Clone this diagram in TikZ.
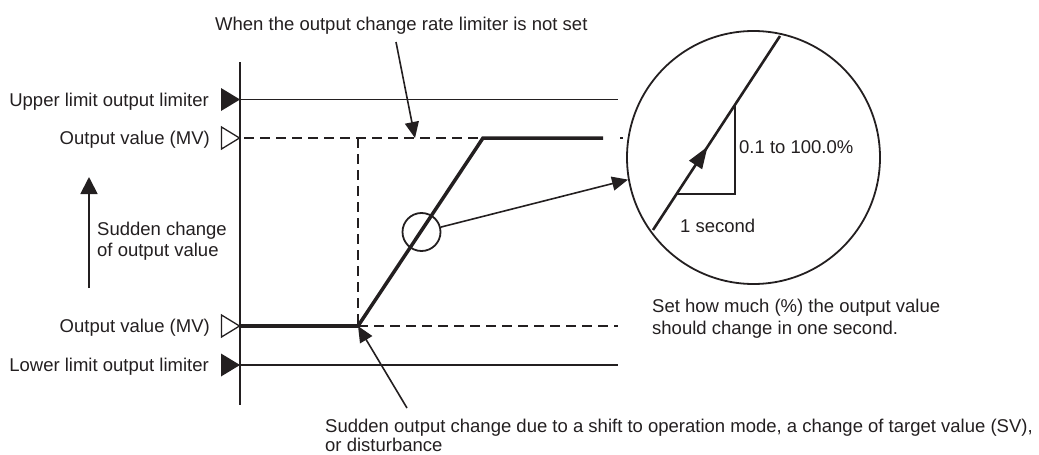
\documentclass[tikz,border=0pt]{standalone}
\usepackage{fontspec}
\setmainfont{Liberation Sans}
\usetikzlibrary{arrows.meta,decorations.markings}
\definecolor{ink}{HTML}{231F20}
\begin{document}
\begin{tikzpicture}[x=1pt,y=-1pt,
  lbl/.style={font=\fontsize{18.5}{22}\selectfont, text=ink, inner sep=0pt},
  thinln/.style={draw=ink, line width=1.9pt},
  dashln/.style={draw=ink, line width=1.9pt, dash pattern=on 10pt off 6pt},
  thickln/.style={draw=ink, line width=4pt},
  ptr/.style={draw=ink, line width=1.6pt, -{Triangle[length=16pt,width=14pt]}},
  marker/.style={fill=ink},
  openmarker/.style={draw=ink, line width=1.3pt, fill=white},
  ring/.style={draw=ink, line width=1.8pt, circle, inner sep=0pt}
]
\useasboundingbox (0,0) rectangle (1039,455);

% axis
\coordinate (axtop) at (240,62);
\coordinate (axbot) at (240,405);
\draw[thinln] (axtop) -- (axbot);

% horizontal lines
\coordinate (ulA) at (240,99.5);  \coordinate (ulB) at (618,99.5);
\coordinate (llA) at (240,365);   \coordinate (llB) at (618,365);
\draw[thinln] (ulA) -- (ulB);
\draw[thinln] (llA) -- (llB);

\coordinate (mvuA) at (244,138);
\coordinate (kneeU) at (483,138);
\coordinate (mvuEnd) at (603,138);
\coordinate (dotA) at (620,138);
\coordinate (dotB) at (623,138);
\coordinate (mvlA) at (240,326);
\coordinate (kneeL) at (358,326);
\coordinate (mvlEnd) at (618,326);
\coordinate (vdTop) at (358,138);

\draw[dashln] (mvuA) -- (kneeU);
\draw[dashln] (kneeL) -- (mvlEnd);
\draw[dashln] (vdTop) -- (kneeL);
\draw[thinln] (dotA) -- (dotB);
\draw[thickln, line cap=butt] (mvlA) -- (kneeL);
\draw[draw=ink, line width=3.5pt, line join=miter] (kneeL) -- (kneeU) -- (mvuEnd);

% markers
\fill[marker] (221,88) -- (240,99.5) -- (221,111) -- cycle;
\fill[marker] (221,353.5) -- (240,365) -- (221,376.5) -- cycle;
\draw[openmarker] (221.5,127) -- (239.5,138) -- (221.5,149) -- cycle;
\draw[openmarker] (221.5,315) -- (239.5,326) -- (221.5,337) -- cycle;

% left labels
\node[lbl, anchor=base east] (ul) at (209,106) {Upper limit output limiter};
\node[lbl, anchor=base east] (mvu) at (210,144) {Output value (MV)};
\node[lbl, anchor=base east] (mvl) at (210,332) {Output value (MV)};
\node[lbl, anchor=base east] (ll) at (209,371) {Lower limit output limiter};

% sudden change arrow
\coordinate (upA) at (89,288);
\coordinate (upB) at (89,177);
\draw[draw=ink, line width=1.8pt, -{Triangle[length=17pt,width=17pt]}] (upA) -- (upB);
\node[lbl, anchor=base west] (sc1) at (97,235) {Sudden change};
\node[lbl, anchor=base west] (sc2) at (97,256) {of output value};

% top note
\node[lbl, anchor=base west] (wt) at (215,30) {When the output change rate limiter is not set};
\coordinate (wtL) at (396,42);
\coordinate (wtT) at (415,138);
\draw[ptr] (wtL) -- (wtT);

% bottom note
\node[lbl, anchor=base west] (b1) at (325,432) {Sudden output change due to a shift to operation mode, a change of target value (SV),};
\node[lbl, anchor=base west] (b2) at (325,451.5) {or disturbance};
\coordinate (bL) at (407,408);
\draw[ptr] (bL) -- (kneeL);

% small circle and magnifier
\node[ring, minimum size=38pt] (smc) at (421.5,232) {};
\node[ring, minimum size=253pt] (bigc) at (753.5,157.5) {};
\draw[ptr] (smc) -- (bigc.190);

% inside big circle
\coordinate (slA) at (653,230);
\coordinate (slB) at (780,36);
\draw[draw=ink, line width=2.6pt,
  postaction={decorate},
  decoration={markings, mark=at position 0.43 with {\arrow{Triangle[length=22pt,width=15pt]}}}]
  (slA) -- (slB);
\coordinate (trA) at (677,194);
\coordinate (trB) at (735,194);
\coordinate (trC) at (735,106);
\draw[thinln] (trA) -- (trB) -- (trC);
\node[lbl, anchor=base west] (rate) at (739,153) {0.1 to 100.0\%};
\node[lbl, anchor=base west] (sec) at (680,232) {1 second};

\node[lbl, anchor=base west] (s1) at (652,312) {Set how much (\%) the output value};
\node[lbl, anchor=base west] (s2) at (652,334) {should change in one second.};
\end{tikzpicture}
\end{document}
